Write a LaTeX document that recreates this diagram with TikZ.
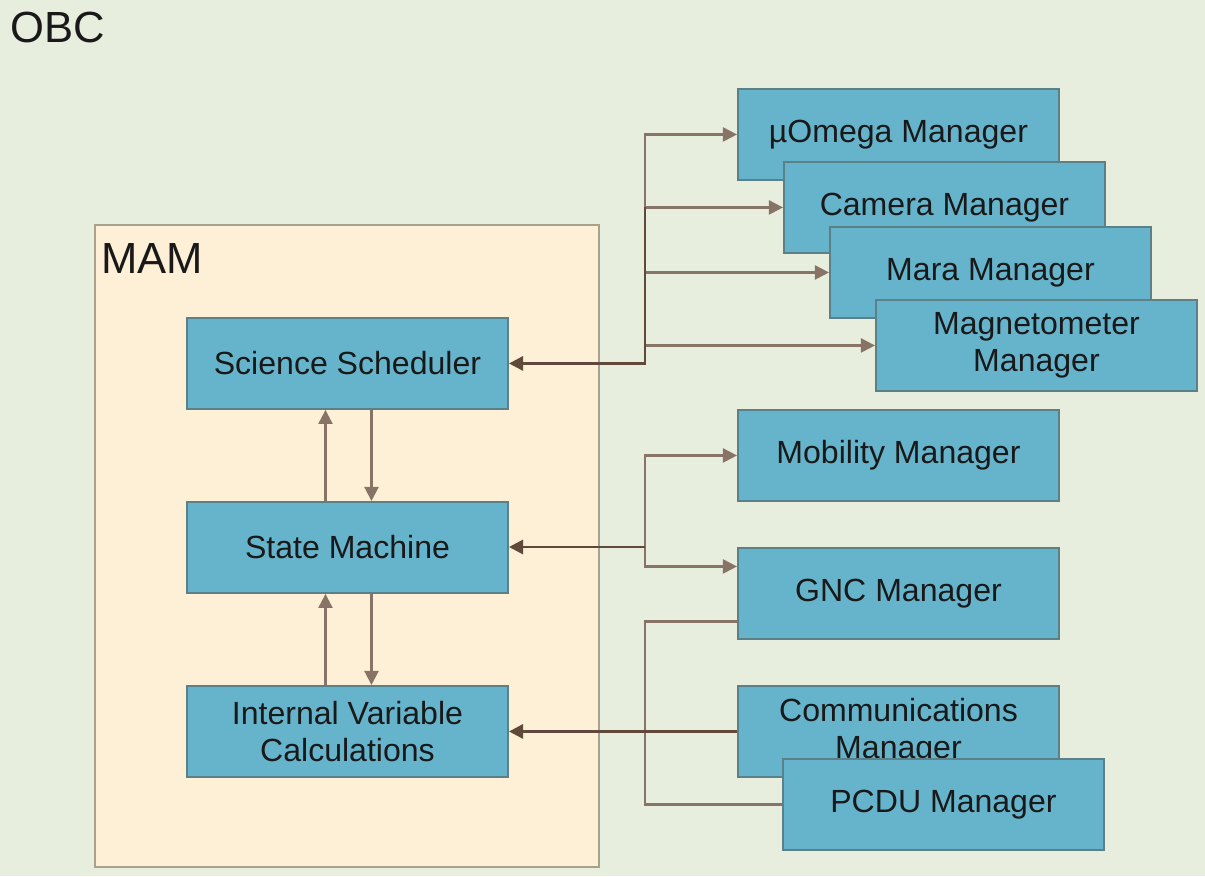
\documentclass[tikz,border=0pt]{standalone}
\usepackage{fontspec}
\setmainfont{Liberation Sans}
\usetikzlibrary{arrows.meta}
\usetikzlibrary{positioning}
\usetikzlibrary{calc}

\definecolor{obcbg}{RGB}{232,238,222}
\definecolor{mamfill}{RGB}{254,240,215}
\definecolor{mamline}{RGB}{170,160,142}
\definecolor{boxfill}{RGB}{102,180,204}
\definecolor{boxline}{RGB}{92,128,136}
\definecolor{wire}{RGB}{136,116,102}
\definecolor{wiredark}{RGB}{96,72,58}

\tikzset{
	mgr/.style={draw=boxline, fill=boxfill, line width=1.2pt, minimum width=8.03cm, minimum height=2.28cm,
		align=center, inner sep=0pt, text=black!90, font=\fontsize{22.8}{26.5}\selectfont, anchor=north west},
	link/.style={draw=wire, line width=1.5pt, -{Triangle[length=10pt,width=10pt]}},
	mainlink/.style={draw=wiredark, line width=2pt, -{Triangle[length=10pt,width=10pt]}},
	plain/.style={draw=wire, line width=1.5pt},
	title/.style={font=\fontsize{31}{36}\selectfont, inner sep=0pt, anchor=base west, text=black!90}
}

\begin{document}
\begin{tikzpicture}[x=0.025cm, y=-0.025cm]
					% background and frames
					\useasboundingbox (0,0) rectangle (1205,876);
					\fill[obcbg] (0,0) rectangle (1205,876);
					\node[title] (obc) at (10,42) {OBC};
					\filldraw[fill=mamfill, draw=mamline, line width=1.8pt] (95,225) rectangle (599,867);
					\node[title] (mam) at (101,273) {MAM};
					
					% MAM blocks
					\node[mgr] (sched) at (186,317) {Science Scheduler};
					\node[mgr] (sm) at (186,501) {State Machine};
					\node[mgr] (ivc) at (186,685) {Internal Variable\\Calculations};
					
					% payload managers (each one on top of the last)
					\node[mgr] (omega) at (737,88) {µOmega Manager};
					\node[mgr] (cam) at (783,161) {Camera Manager};
					\node[mgr] (mara) at (829,226) {Mara Manager};
					\node[mgr] (magn) at (875,299) {Magnetometer\\Manager};
					
					% platform managers
					\node[mgr] (mob) at (737,409) {Mobility Manager};
					\node[mgr] (gnc) at (737,547) {GNC Manager};
					\node[mgr] (comm) at (737,685) {Communications\\Manager};
					\node[mgr] (pcdu) at (782,758) {PCDU Manager};
					
					% links inside MAM
					\draw[link] ($(sm.north)+(-22,0)$) -- ($(sched.south)+(-22,0)$);
					\draw[link] ($(sched.south)+(24,0)$) -- ($(sm.north)+(24,0)$);
					\draw[link] ($(ivc.north)+(-22,0)$) -- ($(sm.south)+(-22,0)$);
					\draw[link] ($(sm.south)+(24,0)$) -- ($(ivc.north)+(24,0)$);
					
					% scheduler bus
					\coordinate (busS) at (645,363);
					\draw[link] (busS) |- (omega);
					\draw[link] (busS |- cam) -- (cam);
					\draw[link] (busS |- mara) -- (mara);
					\draw[link] (busS |- magn) -- (magn);
					\draw[mainlink] (busS |- cam) |- (sched);
					
					% state machine bus
					\coordinate (busM) at (645,547);
					\coordinate (gncIn) at ($(gnc.west)+(0,-27)$);
					\coordinate (gncOut) at ($(gnc.west)+(0,28)$);
					\draw[link] (busM) |- (mob);
					\draw[link] (busM) |- (gncIn);
					\draw[mainlink] (busM) -- (busM -| sm.east);
					
					% housekeeping lines
					\draw[plain] (gncOut) -- (gncOut -| busM) |- (pcdu);
					\draw[mainlink] (comm) -- (ivc);
\end{tikzpicture}
\end{document}
